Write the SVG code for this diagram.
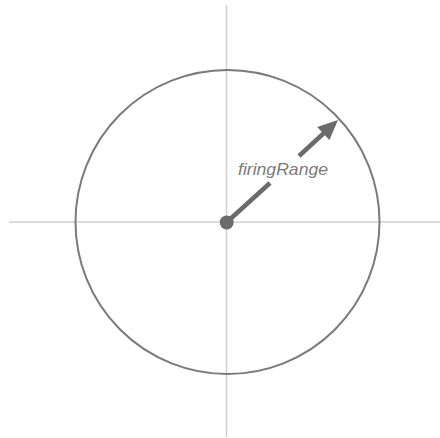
<svg xmlns="http://www.w3.org/2000/svg" width="440" height="438" viewBox="0 0 440 438">
<style>
.axis{stroke:#cfcfcf;stroke-width:1.5;fill:none}
.range{stroke:#7a7a7a;stroke-width:2;fill:none}
.arrow{stroke:#6b6b6b;stroke-width:4.5;fill:none}
.label{font-family:"Liberation Sans",Arial,sans-serif;font-style:italic;font-size:17px;fill:#7a7a7a}
</style>
<rect width="440" height="438" fill="#ffffff"/>
<g id="axes">
<line class="axis" x1="9" y1="222" x2="440" y2="222"/>
<line class="axis" x1="226.5" y1="5" x2="226.5" y2="437"/>
</g>
<g id="range-circle">
<circle class="range" cx="227.5" cy="222" r="152"/>
</g>
<g id="connectors">
<line class="arrow" x1="227" y1="222" x2="270" y2="183"/>
<line class="arrow" x1="299" y1="156" x2="324" y2="133"/>
<polygon points="338,120 317.2,126.9 329.4,140.1" fill="#6b6b6b"/>
</g>
<g id="center">
<circle cx="226.7" cy="222.5" r="7" fill="#6b6b6b"/>
</g>
<g id="label">
<text class="label" x="238" y="175" textLength="90" lengthAdjust="spacingAndGlyphs">firingRange</text>
</g>
</svg>
